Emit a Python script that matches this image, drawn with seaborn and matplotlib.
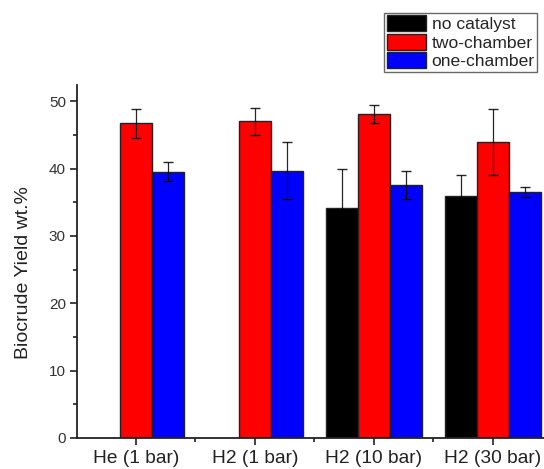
import numpy as np
import pandas as pd
import matplotlib
matplotlib.use("Agg")
import matplotlib.pyplot as plt
from matplotlib.ticker import MultipleLocator, FixedLocator
import seaborn as sns

# Biocrude yield by atmosphere and reactor configuration
conditions = ["He (1 bar)", "H2 (1 bar)", "H2 (10 bar)", "H2 (30 bar)"]
setups = ["no catalyst", "two-chamber", "one-chamber"]
no_catalyst = [np.nan, np.nan, 34.2, 35.9]
two_chamber = [46.7, 47.0, 48.1, 43.9]
one_chamber = [39.5, 39.7, 37.6, 36.5]
no_catalyst_err = [np.nan, np.nan, 5.7, 3.2]
two_chamber_err = [2.2, 2.0, 1.3, 4.9]
one_chamber_err = [1.4, 4.2, 2.1, 0.8]
colors = ["#000000", "#ff0000", "#0000ff"]

values = [no_catalyst, two_chamber, one_chamber]
errors = [no_catalyst_err, two_chamber_err, one_chamber_err]

df = pd.DataFrame({
    "condition": np.repeat([conditions], 3, axis=0).ravel(),
    "setup": np.repeat(setups, len(conditions)),
    "yield": np.concatenate(values),
})

sns.set_theme(style="ticks")
plt.rcParams["font.family"] = ["Liberation Sans", "DejaVu Sans"]

fig = plt.figure(figsize=(5.44, 4.69), dpi=100)
ax = fig.add_axes([0.1415, 0.0661, 0.8585, 0.7527])

sns.barplot(data=df, x="condition", y="yield", hue="setup",
            order=conditions, hue_order=setups, palette=colors,
            width=0.8, errorbar=None, edgecolor="#222222", linewidth=1.0,
            saturation=1, ax=ax, legend=True)

# error bars centred on each bar; match bars to categories by position
for container, err in zip(ax.containers, errors):
    for bar in container:
        h = bar.get_height()
        if np.isnan(h):
            continue
        cx = bar.get_x() + bar.get_width() / 2
        e = err[int(round(cx))]
        if np.isnan(e):
            continue
        ax.errorbar(cx, h, yerr=e, color="#000000", elinewidth=0.9,
                    capsize=3.5, capthick=1.0, alpha=0.85, zorder=5)

ax.set_xlim(-0.496, 3.429)
ax.set_ylim(0, 52.4)
ax.yaxis.set_major_locator(MultipleLocator(10))
ax.yaxis.set_minor_locator(MultipleLocator(5))
ax.xaxis.set_minor_locator(FixedLocator([0.5, 1.5, 2.5]))

for side in ["top", "right"]:
    ax.spines[side].set_visible(False)
for side in ["left", "bottom"]:
    ax.spines[side].set_linewidth(1.3)
    ax.spines[side].set_color("#222222")

ax.tick_params(axis="both", which="major", length=5, width=1.2, color="#222222",
               direction="out")
ax.tick_params(axis="both", which="minor", length=3, width=1.2, color="#222222",
               direction="out")
ax.tick_params(axis="x", labelsize=13.8, labelcolor="#222222", pad=4)
ax.tick_params(axis="y", labelsize=11, labelcolor="#333333", pad=3)

ax.set_xlabel("")
ax.set_ylabel("Biocrude Yield wt.%", fontsize=14, color="#222222")
ax.yaxis.set_label_coords(-0.097, 0.47)

ax.get_legend().remove()
handles = [plt.Rectangle((0, 0), 1, 1, facecolor=c, edgecolor="#222222", linewidth=1.0)
           for c in colors]
leg = fig.legend(handles, setups, loc="upper right",
                 bbox_to_anchor=(0.988, 0.973), fontsize=12.6,
                 frameon=True, fancybox=False, handlelength=2.25, handleheight=1.0,
                 handletextpad=0.3, labelspacing=0.1, borderpad=0.15,
                 borderaxespad=0)
leg.get_frame().set_edgecolor("#444444")
leg.get_frame().set_linewidth(1.0)

fig.savefig("out.png", dpi=100)
